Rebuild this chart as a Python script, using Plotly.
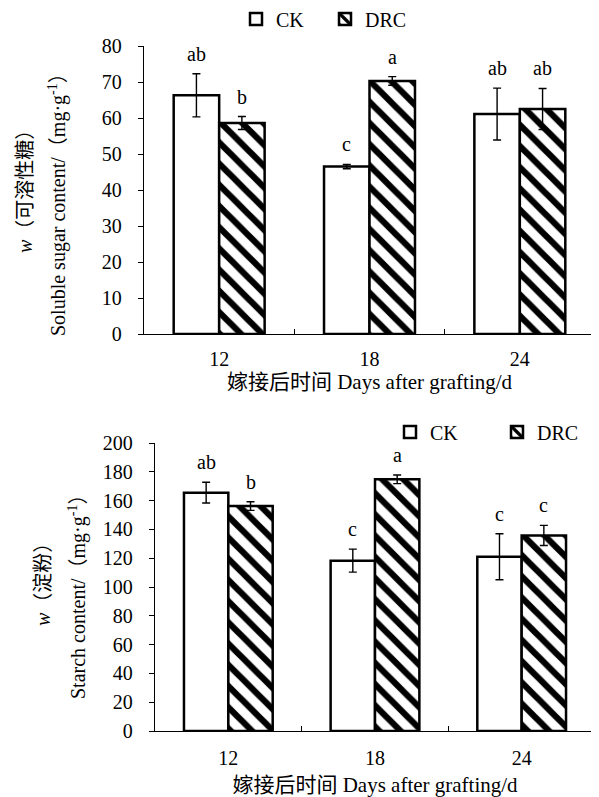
import plotly.graph_objects as go

# ---------------- data ----------------
days = ["12", "18", "24"]

sugar_ck = [66.3, 46.5, 61.1]
sugar_ck_err = [6.0, 0.6, 7.2]
sugar_drc = [58.6, 70.3, 62.5]
sugar_drc_err = [1.8, 1.2, 5.7]
sugar_ck_letters = ["ab", "c", "ab"]
sugar_drc_letters = ["b", "a", "ab"]

starch_ck = [165.5, 118.3, 121.0]
starch_ck_err = [7.2, 8.0, 16.0]
starch_drc = [156.2, 174.8, 135.8]
starch_drc_err = [3.0, 3.0, 7.0]
starch_ck_letters = ["ab", "c", "c"]
starch_drc_letters = ["b", "a", "c"]

series_names = ["CK", "DRC"]
x_title = "嫁接后时间 Days after grafting/d"
sugar_title = ["<i>w</i>（可溶性糖）", "Soluble sugar content/（mg·g<sup>-1</sup>）"]
starch_title = ["<i>w</i>（淀粉）", "Starch content/（mg·g<sup>-1</sup>）"]

# ---------------- style ----------------
FONT = "'Liberation Serif', 'Times New Roman', 'Noto Sans CJK SC', serif"
PAGE_OFF = 8                      # default body margin of the html page
W, H = 599 - PAGE_OFF, 797 - PAGE_OFF
# plot-area edges in page pixels
TOP_L, TOP_R, TOP_T, TOP_B = 144, 595, 46, 334
BOT_L, BOT_T, BOT_B = 155, 443, 731
ML = TOP_L - PAGE_OFF
MR = W - (TOP_R - PAGE_OFF)
MT = TOP_T - PAGE_OFF
MB = H - (BOT_B - PAGE_OFF)
PW, PH = W - ML - MR, H - MT - MB
BARGAP = 0.395
BAR_W = (1 - BARGAP) / 2


def px_x(px):
    return (px - PAGE_OFF - ML) / PW


def px_y(py):
    return (H - MB - (py - PAGE_OFF)) / PH


def font(size):
    return dict(family=FONT, size=size, color="black")


fig = go.Figure()

ck_style = dict(color="white", line=dict(color="black", width=2.5))
drc_style = dict(color="white", line=dict(color="black", width=2.5),
                 pattern=dict(shape="\\", fgcolor="black", bgcolor="white",
                              fgopacity=1, size=15, solidity=0.42))
err_style = dict(type="data", color="black", thickness=1.4, width=4)

panels = [
    (sugar_ck, sugar_ck_err, sugar_drc, sugar_drc_err, "x", "y", "legend"),
    (starch_ck, starch_ck_err, starch_drc, starch_drc_err, "x2", "y2", "legend2"),
]
for ck, ck_e, drc, drc_e, xa, ya, lg in panels:
    fig.add_trace(go.Bar(x=days, y=ck, name=series_names[0], marker=ck_style,
                         error_y=dict(array=ck_e, **err_style),
                         xaxis=xa, yaxis=ya, legend=lg, offsetgroup="ck"))
    fig.add_trace(go.Bar(x=days, y=drc, name=series_names[1], marker=drc_style,
                         error_y=dict(array=drc_e, **err_style),
                         xaxis=xa, yaxis=ya, legend=lg, offsetgroup="drc"))

# significance letters
annotations = []
letter_sets = [
    (sugar_ck, sugar_ck_err, sugar_ck_letters, -BAR_W / 2, "x", "y"),
    (sugar_drc, sugar_drc_err, sugar_drc_letters, BAR_W / 2, "x", "y"),
    (starch_ck, starch_ck_err, starch_ck_letters, -BAR_W / 2, "x2", "y2"),
    (starch_drc, starch_drc_err, starch_drc_letters, BAR_W / 2, "x2", "y2"),
]
for vals, errs, letters, off, xa, ya in letter_sets:
    for i, (v, e, t) in enumerate(zip(vals, errs, letters)):
        annotations.append(dict(x=i + off, y=v + e, xref=xa, yref=ya, text=t,
                                showarrow=False, yshift=20, yanchor="middle",
                                font=font(20)))

# y-axis titles (two lines each), positions in page pixels
for (line1, line2), (x1, y1, x2, y2) in [
    (sugar_title, (25, 187, 57, 200)),
    (starch_title, (43, 580, 77, 592)),
]:
    annotations.append(dict(x=px_x(x1), y=px_y(y1), xref="paper", yref="paper",
                            text=line1, textangle=-90, showarrow=False,
                            xanchor="center", yanchor="middle", font=font(20)))
    annotations.append(dict(x=px_x(x2), y=px_y(y2), xref="paper", yref="paper",
                            text=line2, textangle=-90, showarrow=False,
                            xanchor="center", yanchor="middle", font=font(20)))

top_dom = [px_y(TOP_B), 1.0]
bot_dom = [0.0, px_y(BOT_T)]

xaxis_common = dict(type="category", showline=True, linecolor="black", linewidth=1.3,
                    ticks="inside", tickson="boundaries", ticklen=5, tickwidth=1.3,
                    tickcolor="black", showgrid=False, zeroline=False,
                    tickfont=font(20))
yaxis_common = dict(showline=True, linecolor="black", linewidth=1.3, ticks="outside",
                    ticklen=5, tickwidth=1.3, tickcolor="black", showgrid=False,
                    zeroline=False, tickfont=font(20), ticklabelstandoff=12)

legend_common = dict(orientation="h", font=font(20),
                     bgcolor="rgba(0,0,0,0)", borderwidth=0, xanchor="left",
                     yanchor="middle", traceorder="normal",
                     entrywidthmode="pixels")

fig.update_layout(
    width=W, height=H,
    margin=dict(l=ML, r=MR, t=MT, b=MB, autoexpand=False),
    paper_bgcolor="white", plot_bgcolor="white",
    barmode="group", bargap=BARGAP, bargroupgap=0,
    font=font(20),
    xaxis=dict(domain=[0, 1], anchor="y", ticklabelstandoff=7,
               title=dict(text=x_title, standoff=1, font=font(21)), **xaxis_common),
    yaxis=dict(domain=top_dom, anchor="x", range=[0, 80], dtick=10, **yaxis_common),
    xaxis2=dict(domain=[px_x(BOT_L), 1], anchor="y2", ticklabelstandoff=9,
                title=dict(text=x_title, standoff=14, font=font(21)), **xaxis_common),
    yaxis2=dict(domain=bot_dom, anchor="x2", range=[0, 200], dtick=20, **yaxis_common),
    legend=dict(x=px_x(236), y=px_y(19), entrywidth=44, **legend_common),
    legend2=dict(x=px_x(390), y=px_y(432), entrywidth=62, **legend_common),
    annotations=annotations,
    showlegend=True,
)

fig.write_html("out.html")
